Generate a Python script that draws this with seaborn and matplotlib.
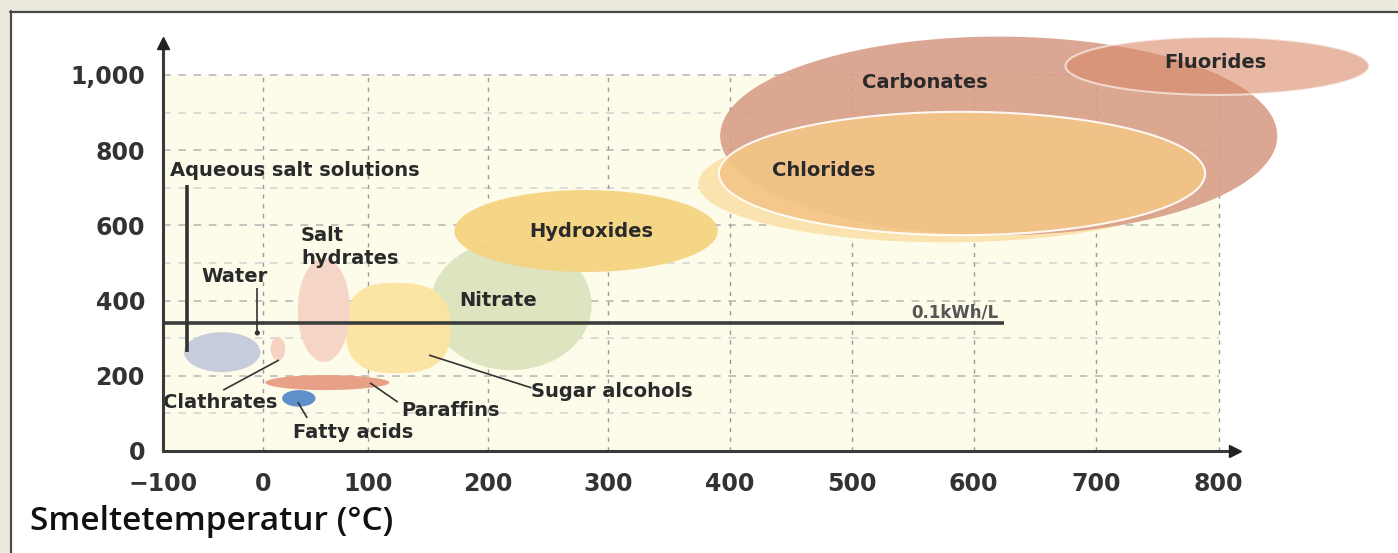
import numpy as np
import pandas as pd
import matplotlib
matplotlib.use("Agg")
import matplotlib.pyplot as plt
import seaborn as sns
from matplotlib.patches import Rectangle
from matplotlib.lines import Line2D

# ---------------- data ----------------
x_ticks = [-100, 0, 100, 200, 300, 400, 500, 600, 700, 800]
x_tick_labels = ["\u2212100", "0", "100", "200", "300", "400", "500", "600", "700", "800"]
y_ticks = [0, 200, 400, 600, 800, 1000]
y_tick_labels = ["0", "200", "400", "600", "800", "1,000"]
# the printed temperature axis is not evenly spaced: relative tick positions
x_tick_pos = [-100, 0, 104, 224, 344, 465, 587, 708, 830, 952]

bubble_names = ["Chlorides halo", "Carbonates", "Chlorides", "Fluorides", "Nitrate",
                "Sugar alcohols", "Hydroxides", "Salt hydrates", "Aqueous salt solutions",
                "Clathrates", "Paraffins", "Fatty acids"]
bubble_cx = [577, 620, 590, 799, 219, 124, 281, 58, -41, 14, 60, 34]
bubble_cy = [711, 838, 738, 1024, 388, 327, 585, 375, 263, 272, 182, 140]
bubble_rx = [203, 228, 199, 124, 67, 45, 109, 25, 38, 7, 58, 16]
bubble_ry = [156, 264, 164, 77, 173, 120, 109, 138, 53, 31, 20, 22]
bubble_color = ["#FAE3AE", "#D89E88", "#F3C686", "#D98A69", "#DDE4C0", "#FBE4A0",
                "#F5D482", "#F5D5C6", "#C6CCDC", "#F6D2C3", "#E8A087", "#6090CA"]
bubble_alpha = [1.0, 0.9, 0.9, 0.6, 1.0, 0.95, 0.95, 1.0, 1.0, 1.0, 1.0, 1.0]
bubble_edge = [None, None, "white", "white", None, None, None, None, None, None, None, None]
bubble_shape = [2, 2, 2, 2, 2, 2.6, 2, 2, 2, 2, 2, 2]

inner_labels = ["Carbonates", "Fluorides", "Chlorides", "Hydroxides", "Nitrate"]
inner_x = [560, 797, 477, 286, 208]
inner_y = [979, 1032, 745, 585, 399]

# leader lines: (x0, y0, x1, y1)
leader_names = ["Aqueous salt solutions", "Water", "Clathrates", "Paraffins",
                "Fatty acids", "Sugar alcohols"]
leader_x0 = [-76, -6, -40, 125, 42, 236]
leader_y0 = [707, 434, 162, 130, 88, 168]
leader_x1 = [-76, -6, 15, 102, 33, 151]
leader_y1 = [263, 314, 242, 181, 130, 255]
leader_lw = [2.6, 1.2, 1.2, 1.2, 1.2, 1.2]

outer_labels = ["Aqueous salt solutions", "Water", "Clathrates", "Paraffins",
                "Fatty acids", "Sugar alcohols", "Salt", "hydrates"]
outer_x = [-93, -29, -100, 128, 86, 236, 36, 36]
outer_y = [745, 463, 130, 109, 50, 157, 572, 513]
outer_ha = ["left", "center", "left", "left", "center", "left", "left", "left"]

threshold_value = 340
threshold_x_end = 625
threshold_label = "0.1kWh/L"

# ---------------- figure ----------------
sns.set_theme(style="white")
plt.rcParams["font.family"] = ["DejaVu Sans"]

W, H = 1398, 553
fig = plt.figure(figsize=(W / 100, H / 100), dpi=100)
fig.patch.set_facecolor("#ECE9DD")
fig.patches.append(Rectangle((10 / W, 0), 1 - 10 / W, (H - 11) / H,
                             transform=fig.transFigure, facecolor="white",
                             edgecolor="none", zorder=-10))
fig.lines.append(Line2D([10.5 / W, 10.5 / W], [0, (H - 11) / H], transform=fig.transFigure,
                        color="#4a4a4a", lw=1.6, zorder=-5))
fig.lines.append(Line2D([10 / W, 1], [(H - 11.5) / H, (H - 11.5) / H], transform=fig.transFigure,
                        color="#4a4a4a", lw=1.6, zorder=-5))

ax = fig.add_axes([163 / W, (H - 451) / H, (1235 - 163) / W, (451 - 43) / H])
ax.set_facecolor("none")

tp = np.array(x_tick_pos + [1074], dtype=float)
tv = np.array(x_ticks + [900], dtype=float)

def fwd(v):
    v = np.asarray(v, dtype=float)
    slope_l = (tp[1] - tp[0]) / (tv[1] - tv[0])
    slope_r = (tp[-1] - tp[-2]) / (tv[-1] - tv[-2])
    out = np.interp(v, tv, tp)
    out = np.where(v < tv[0], tp[0] + (v - tv[0]) * slope_l, out)
    out = np.where(v > tv[-1], tp[-1] + (v - tv[-1]) * slope_r, out)
    return out

def inv(p):
    p = np.asarray(p, dtype=float)
    slope_l = (tv[1] - tv[0]) / (tp[1] - tp[0])
    slope_r = (tv[-1] - tv[-2]) / (tp[-1] - tp[-2])
    out = np.interp(p, tp, tv)
    out = np.where(p < tp[0], tv[0] + (p - tp[0]) * slope_l, out)
    out = np.where(p > tp[-1], tv[-1] + (p - tp[-1]) * slope_r, out)
    return out

ax.set_xscale("function", functions=(fwd, inv))
ax.set_xlim(-100, float(inv(tp[-2] + 20 / 1.22 * 1.0)))
ax.set_ylim(0, 1085)

# cream plotting area
ax.fill([-100, 800, 800, -100], [0, 0, 1000, 1000], color="#FDFBEA", lw=0, zorder=0)

# grid
for yv in range(100, 1001, 100):
    major = yv % 200 == 0
    ax.plot([-100, 800], [yv, yv], color="#B4B4B4" if major else "#D2D2D2",
            lw=1.1, ls=(0, (5, 5)), zorder=1)
for xv in x_ticks[1:]:
    ax.plot([xv, xv], [0, 1000], color="#9A9A9A", lw=1.0, ls=(0, (3, 4)), zorder=1)

# bubbles
t = np.linspace(0, 2 * np.pi, 400)
for i, name in enumerate(bubble_names):
    e = 2.0 / bubble_shape[i]
    c, s = np.cos(t), np.sin(t)
    xs = bubble_cx[i] + bubble_rx[i] * np.sign(c) * np.abs(c) ** e
    ys = bubble_cy[i] + bubble_ry[i] * np.sign(s) * np.abs(s) ** e
    ax.fill(xs, ys, facecolor=bubble_color[i], alpha=bubble_alpha[i],
            edgecolor=bubble_edge[i] if bubble_edge[i] else "none",
            lw=1.5 if bubble_edge[i] else 0, zorder=2 + i * 0.01, clip_on=False)

# threshold line
ax.plot([-100, threshold_x_end], [threshold_value, threshold_value], color="#3c3c3c",
        lw=2.6, zorder=4, solid_capstyle="butt")
ax.text(threshold_x_end - 5, threshold_value + 4, threshold_label, ha="right", va="bottom",
        fontsize=12, fontweight="bold", color="#555555", zorder=5)

# leaders
leaders = pd.DataFrame({"name": leader_names, "x0": leader_x0, "y0": leader_y0,
                        "x1": leader_x1, "y1": leader_y1, "lw": leader_lw})
for _, r in leaders.iterrows():
    ax.plot([r.x0, r.x1], [r.y0, r.y1], color="#333333", lw=r.lw, zorder=4,
            solid_capstyle="butt")
dots = leaders[leaders["name"].isin(["Water"])]
sns.scatterplot(x=dots["x1"], y=dots["y1"], ax=ax, color="#333333", s=14,
                edgecolor="none", zorder=5, legend=False)
ax.set_xlabel("")
ax.set_ylabel("")

# labels
for lab, xv, yv in zip(inner_labels, inner_x, inner_y):
    ax.text(xv, yv, lab, ha="center", va="center", fontsize=14, fontweight="bold",
            color="#2a2a2a", zorder=6)
for lab, xv, yv, ha in zip(outer_labels, outer_x, outer_y, outer_ha):
    ax.text(xv, yv, lab, ha=ha, va="center", fontsize=14, fontweight="bold",
            color="#2a2a2a", zorder=6)

# axes
for sp in ["top", "right"]:
    ax.spines[sp].set_visible(False)
for sp in ["left", "bottom"]:
    ax.spines[sp].set_color("#3a3a3a")
    ax.spines[sp].set_linewidth(2.2)
    ax.spines[sp].set_zorder(7)
ax.plot(1, 0, marker=">", color="#222222", markersize=9, transform=ax.transAxes,
        clip_on=False, zorder=8)
ax.plot(0, 1, marker="^", color="#222222", markersize=9, transform=ax.transAxes,
        clip_on=False, zorder=8)

ax.set_xticks(x_ticks)
ax.set_xticklabels(x_tick_labels)
ax.set_yticks(y_ticks)
ax.set_yticklabels(y_tick_labels)
ax.xaxis.set_minor_locator(matplotlib.ticker.NullLocator())
ax.tick_params(axis="both", length=0, labelsize=17, labelcolor="#333333")
ax.tick_params(axis="x", pad=15)
ax.tick_params(axis="y", pad=13)
for lab in ax.get_xticklabels() + ax.get_yticklabels():
    lab.set_fontweight("bold")
ax.grid(False)

fig.text(30 / W, 1 - 522 / H, "Smeltetemperatur (\u00b0C)", ha="left", va="center",
         fontsize=24, color="#111111", family=["Open Sans", "DejaVu Sans"],
         fontweight="semibold")

fig.savefig("out.png", dpi=100, facecolor=fig.get_facecolor())
